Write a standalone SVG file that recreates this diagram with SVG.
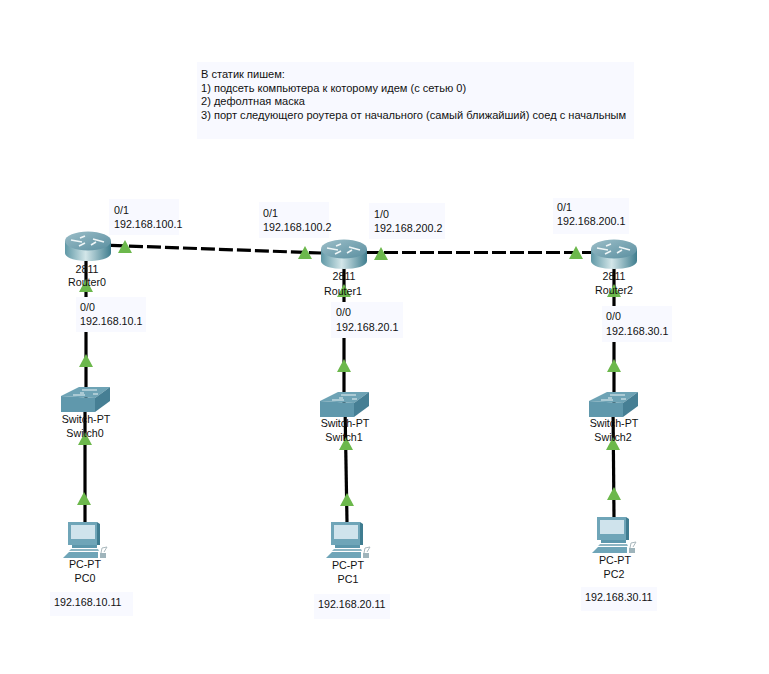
<svg xmlns="http://www.w3.org/2000/svg" width="769" height="674" viewBox="0 0 769 674">
<style>
text{font-family:"Liberation Sans",Arial,sans-serif;font-size:10.7px;fill:#111}
.c{text-anchor:middle}
.n{font-size:11.07px}
.note{fill:#f8f9ff}
.solid{stroke:#000;stroke-width:3.2;fill:none}
.dash{stroke:#000;stroke-width:3.2;fill:none;stroke-dasharray:14 4}
.tri{fill:#6cb84c}
</style>
<defs>
<linearGradient id="rg" x1="0" x2="1" y1="0" y2="0"><stop offset="0" stop-color="#5f98a6"/><stop offset=".45" stop-color="#d3e6e9"/><stop offset="1" stop-color="#3f7d8e"/></linearGradient>
<linearGradient id="rt" x1="0" x2="1" y1="0" y2="1"><stop offset="0" stop-color="#9cbec8"/><stop offset="1" stop-color="#5a8fa0"/></linearGradient>
<polygon id="t" class="tri" points="0,-7 7,6 -7,6"/>
<g id="router">
<path d="M-23,-5V7C-23,12 -12,15 0,15S23,12 23,7V-5Z" fill="url(#rg)"/>
<ellipse cx="0" cy="-5" rx="23" ry="9.5" fill="url(#rt)"/>
<path d="M-17,-6L-6,-4M-3,-10L-8,-8M3,-1L8,-4M5,-7L16,-4M-9,0L-3,-3" stroke="#eef5f6" stroke-width="1.6" fill="none"/>
</g>
<g id="switch">
<polygon points="-24,-3 -6,-12 25,-12 10,-1" fill="#6ea3b5"/>
<polygon points="-24,-3 10,-1 10,13 -24,13" fill="#6098ac"/>
<polygon points="10,-1 25,-12 25,2 10,13" fill="#467f94"/>
<path d="M-12,-4H0M-3,-9H12M-5,-6H-1M8,-5H13" stroke="#e8f2f4" stroke-width="1.1" fill="none"/>
</g>
<g id="pc">
<rect x="-15" y="-18" width="29" height="23" fill="#6fa5b8"/>
<polygon points="14,-18 17,-16 17,5 14,5" fill="#3f7c90"/>
<rect x="-12" y="-15" width="24" height="14" fill="#cfe3ec"/>
<polygon points="-11,5 14,5 14,8 -11,8" fill="#5d97ac"/>
<polygon points="-14,11 16,11 15,9 -12,9" fill="#8db5c3"/>
<polygon points="-20,18 -14,12 15,12 15,18" fill="#6fa5b8"/>
<path d="M18,13L19,8L24,7L21,12" fill="none" stroke="#aab8bd" stroke-width="1"/>
<rect x="17" y="13" width="6" height="5" fill="#9fb4bb"/>
</g>
</defs>
<rect width="769" height="674" fill="#fff"/>
<g id="connectors">
<path class="dash" d="M111,245.4L321,253"/>
<path class="dash" d="M366,252.5H592"/>
<path class="solid" d="M86,261V400"/>
<path class="solid" d="M85,400V522"/>
<path class="solid" d="M344,268V405"/>
<path class="solid" d="M345,405L347,522"/>
<path class="solid" d="M614,268V405"/>
<path class="solid" d="M613,405L614,517"/>
<use href="#t" x="125" y="247"/><use href="#t" x="305" y="253"/><use href="#t" x="381" y="254"/><use href="#t" x="576" y="253"/>
<use href="#t" x="86" y="286"/><use href="#t" x="86" y="361"/><use href="#t" x="85" y="439"/><use href="#t" x="84" y="499"/>
<use href="#t" x="344" y="291"/><use href="#t" x="344" y="366"/><use href="#t" x="346" y="444"/><use href="#t" x="347" y="500"/>
<use href="#t" x="614" y="291"/><use href="#t" x="614" y="366"/><use href="#t" x="613" y="444"/><use href="#t" x="614" y="494"/>
</g>
<g id="note"><rect class="note" x="197" y="62" width="437" height="77"/>
<text class="n" x="201" y="77.5">В статик пишем:</text><text class="n" x="201" y="91.5">1) подсеть компьютера к которому идем (с сетью 0)</text><text class="n" x="201" y="105">2) дефолтная маска</text><text class="n" x="201" y="119">3) порт следующего роутера от начального (самый ближайший) соед с начальным</text></g>
<g id="Router0"><use href="#router" x="88" y="246"/><text class="c" x="87" y="273">2811</text><text class="c" x="87" y="286">Router0</text></g>
<g id="Router1"><use href="#router" x="344" y="254"/><text class="c" x="344" y="280">2811</text><text class="c" x="343" y="295">Router1</text></g>
<g id="Router2"><use href="#router" x="614" y="254"/><text class="c" x="614" y="280">2811</text><text class="c" x="614" y="294">Router2</text></g>
<g id="Switch0"><use href="#switch" x="85" y="399"/><text class="c" x="86" y="423">Switch-PT</text><text class="c" x="85" y="437">Switch0</text></g>
<g id="Switch1"><use href="#switch" x="344" y="404"/><text class="c" x="345" y="427">Switch-PT</text><text class="c" x="344" y="441">Switch1</text></g>
<g id="Switch2"><use href="#switch" x="613" y="404"/><text class="c" x="614" y="427">Switch-PT</text><text class="c" x="613" y="441">Switch2</text></g>
<g id="PC0"><use href="#pc" x="83" y="540"/><text class="c" x="85" y="568">PC-PT</text><text class="c" x="85" y="582">PC0</text></g>
<g id="PC1"><use href="#pc" x="346" y="540"/><text class="c" x="348" y="569">PC-PT</text><text class="c" x="348" y="583">PC1</text></g>
<g id="PC2"><use href="#pc" x="612" y="535"/><text class="c" x="615" y="564">PC-PT</text><text class="c" x="614" y="578">PC2</text></g>
<g id="labels">
<rect class="note" x="109" y="199" width="70" height="36"/><text x="114" y="214">0/1</text><text x="114" y="228">192.168.100.1</text>
<rect class="note" x="259" y="202" width="70" height="36"/><text x="263" y="217">0/1</text><text x="263" y="231">192.168.100.2</text>
<rect class="note" x="369" y="203" width="76" height="36"/><text x="374" y="218">1/0</text><text x="374" y="232">192.168.200.2</text>
<rect class="note" x="553" y="198" width="76" height="36"/><text x="557" y="211">0/1</text><text x="557" y="225">192.168.200.1</text>
<rect class="note" x="76" y="297" width="70" height="35"/><text x="80" y="311">0/0</text><text x="80" y="325">192.168.10.1</text>
<rect class="note" x="331" y="302" width="72" height="36"/><text x="336" y="316">0/0</text><text x="336" y="331">192.168.20.1</text>
<rect class="note" x="602" y="306" width="70" height="36"/><text x="606" y="320">0/0</text><text x="606" y="335">192.168.30.1</text>
<rect class="note" x="50" y="592" width="83" height="24"/><text x="54" y="606">192.168.10.11</text>
<rect class="note" x="314" y="594" width="76" height="25"/><text x="318" y="608">192.168.20.11</text>
<rect class="note" x="581" y="587" width="76" height="24"/><text x="585" y="601">192.168.30.11</text>
</g>
</svg>
